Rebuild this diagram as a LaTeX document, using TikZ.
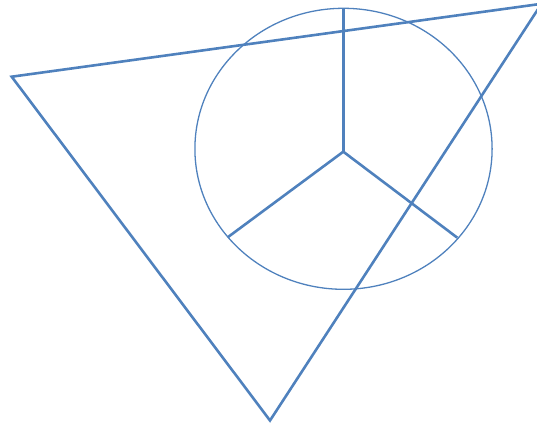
\documentclass[tikz,border=0pt]{standalone}
\definecolor{officeblue}{RGB}{79,129,189}
\begin{document}
\begin{tikzpicture}[x=1pt,y=-1pt,
  thick line/.style={draw=officeblue,line width=2.6pt,line join=miter},
  thin line/.style={draw=officeblue,line width=1.3pt}]
\useasboundingbox (0,0) rectangle (537,428);
\clip (0,0) rectangle (537,428);
\coordinate (A) at (11.7,76.7);
\coordinate (B) at (541.5,3.8);
\coordinate (C) at (270,420.5);
\coordinate (O) at (343.3,151.7);
\coordinate (T) at (343.3,8.3);
\coordinate (L) at (227.7,237.3);
\coordinate (R) at (457.3,237.7);
\draw[thin line] (343.5,148.8) ellipse [x radius=148.6, y radius=140.5];
\draw[thick line] (A) -- (B) -- (C) -- cycle;
\draw[thick line] (O) -- (T);
\draw[thick line] (O) -- (L);
\draw[thick line] (O) -- (R);
\end{tikzpicture}
\end{document}
